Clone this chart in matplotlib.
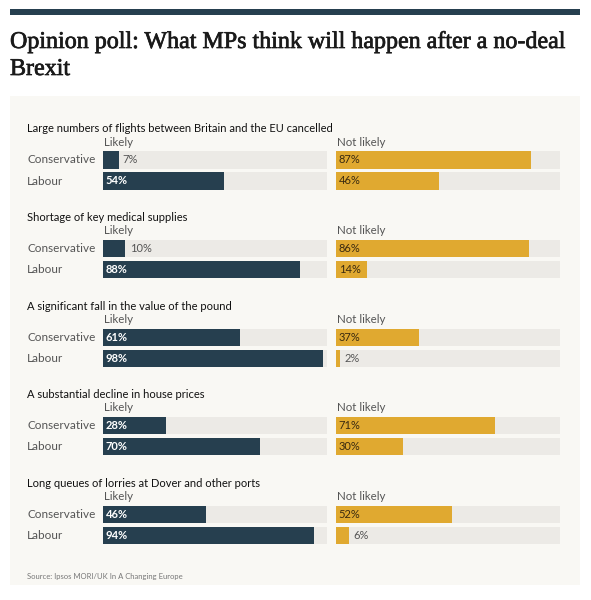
import matplotlib.pyplot as plt
import matplotlib.patheffects as pe
from matplotlib.patches import Rectangle

questions = [
    "Large numbers of flights between Britain and the EU cancelled",
    "Shortage of key medical supplies",
    "A significant fall in the value of the pound",
    "A substantial decline in house prices",
    "Long queues of lorries at Dover and other ports",
]
parties = ["Conservative", "Labour"]
likely_con = [7, 10, 61, 28, 46]
likely_lab = [54, 88, 98, 70, 94]
notlikely_con = [87, 86, 37, 71, 52]
notlikely_lab = [46, 14, 2, 30, 6]

NAVY = "#263f4f"
GOLD = "#e0a930"
TRACK = "#eceae6"
PANEL = "#f9f8f4"
W, H = 591, 600

fig = plt.figure(figsize=(W / 100, H / 100), dpi=100)
fig.patch.set_facecolor("white")


def fx(x):
    return x / W


def fy(y):
    return 1 - y / H


# top rule and panel background
fig.patches.append(Rectangle((fx(10), fy(15)), fx(570), 6 / H, transform=fig.transFigure,
                             facecolor=NAVY, edgecolor="none", zorder=-5))
fig.patches.append(Rectangle((fx(10), fy(585)), fx(570), 489 / H, transform=fig.transFigure,
                             facecolor=PANEL, edgecolor="none", zorder=-5))

title_fx = [pe.withStroke(linewidth=0.5, foreground="#1a1a1a")]
fig.text(fx(10), fy(48), "Opinion poll: What MPs think will happen after a no-deal",
         family="Liberation Serif", fontsize=17.3, color="#1a1a1a", va="baseline",
         path_effects=title_fx)
fig.text(fx(10), fy(75), "Brexit",
         family="Liberation Serif", fontsize=17.3, color="#1a1a1a", va="baseline",
         path_effects=title_fx)

sans = "Lato"


def draw_side(ax, values, color, inside_color, min_inside):
    ax.barh([0, 1], [100, 100], height=0.82, color=TRACK)
    ax.barh([0, 1], values, height=0.82, color=color)
    for row, v in enumerate(values):
        if v >= min_inside:
            ax.annotate(f"{v}%", (0, row), xytext=(2, 0), textcoords="offset points",
                        va="center", ha="left", fontsize=8, color=inside_color, family=sans,
                        fontweight="bold" if inside_color == "white" else "normal")
        else:
            ax.annotate(f"{v}%", (v, row), xytext=(3, 0), textcoords="offset points",
                        va="center", ha="left", fontsize=8, color="#555555", family=sans)
    ax.set_xlim(0, 100)
    ax.set_ylim(1.5, -0.5)
    ax.axis("off")


for i, q in enumerate(questions):
    base = 129 + i * 88.6
    fig.text(fx(27), fy(base), q, family=sans, fontsize=8, color="#111111", va="center")
    fig.text(fx(104), fy(base + 13), "Likely", family=sans, fontsize=8.3,
             color="#555555", va="center")
    fig.text(fx(337), fy(base + 13), "Not likely", family=sans, fontsize=8.3,
             color="#555555", va="center")
    for r, p in enumerate(parties):
        fig.text(fx(27), fy(base + 31 + 21 * r), p, family=sans, fontsize=8.5,
                 color="#555555", va="center")

    ax_l = fig.add_axes([fx(103), fy(base + 62.5), 224 / W, 42 / H])
    draw_side(ax_l, [likely_con[i], likely_lab[i]], NAVY, "white", 20)
    ax_r = fig.add_axes([fx(336), fy(base + 62.5), 224 / W, 42 / H])
    draw_side(ax_r, [notlikely_con[i], notlikely_lab[i]], GOLD, "#3a2a10", 10)

fig.text(fx(27), fy(577), "Source: Ipsos MORI/UK In A Changing Europe", family=sans,
         fontsize=5.5, color="#777777", va="center")

fig.savefig("out.png", dpi=100)
